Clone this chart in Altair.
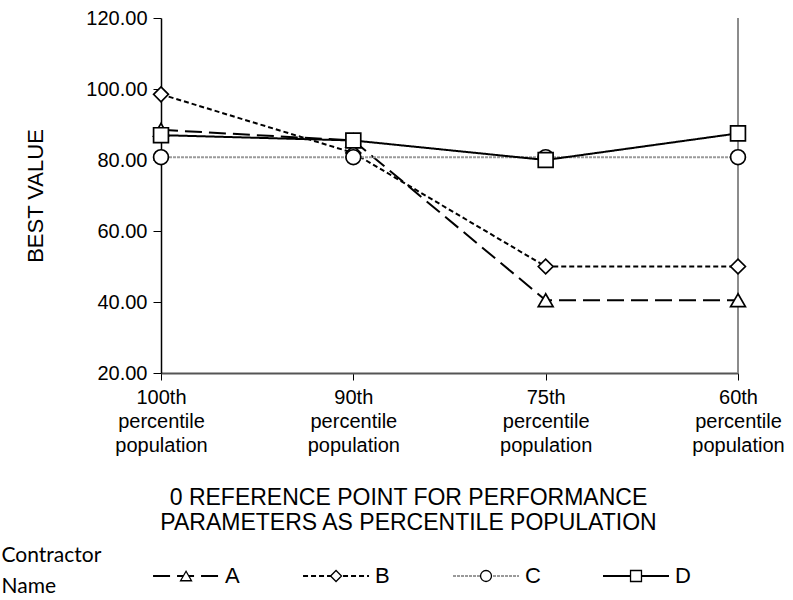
import altair as alt
import pandas as pd

categories = ["100th percentile population", "90th percentile population",
              "75th percentile population", "60th percentile population"]
contractors = ["A", "B", "C", "D"]
values_A = [88.5, 85.5, 40.5, 40.5]
values_B = [98.5, 82.0, 50.0, 50.0]
values_C = [80.8, 80.8, 80.8, 80.8]
values_D = [87.0, 85.5, 80.0, 87.5]
y_ticks = [20, 40, 60, 80, 100, 120]
x_title = ["0 REFERENCE POINT FOR PERFORMANCE", "PARAMETERS AS PERCENTILE POPULATION"]
legend_title = ["Contractor", "Name"]

rows = []
for name, vals in zip(contractors, [values_A, values_B, values_C, values_D]):
    for i, (c, v) in enumerate(zip(categories, vals)):
        rows.append({"Contractor": name, "Point": c, "Value": v, "order": i})
df = pd.DataFrame(rows)

FONT = "Liberation Sans"

dash_scale = alt.Scale(domain=contractors, range=[[17, 7], [5, 3], [3, 1], [1, 0]])
color_scale = alt.Scale(domain=contractors, range=["black", "black", "#9a9a9a", "black"])
width_scale = alt.Scale(domain=contractors, range=[2, 2, 3.5, 2.5])
shape_scale = alt.Scale(domain=contractors, range=["triangle-up", "diamond", "circle", "square"])

x_enc = alt.X("Point:N", sort=categories, scale=alt.Scale(type="point", padding=0),
              axis=alt.Axis(labelExpr="split(datum.label, ' ')", labelAngle=0,
                            labelAlign="center", labelBaseline="top",
                            labelFontSize=20, labelLineHeight=24, labelPadding=7,
                            tickSize=7, tickColor="black", domainColor="#555",
                            domainWidth=2, labelColor="black",
                            title=x_title, titleFontSize=23, titleFontWeight="normal",
                            titleLineHeight=25, titlePadding=31, titleX=247,
                            titleColor="black"))
y_enc = alt.Y("Value:Q", scale=alt.Scale(domain=[20, 120], nice=False),
              axis=alt.Axis(values=y_ticks, format=".2f", grid=False, labelFontSize=20,
                            tickSize=8, tickColor="black", domainColor="black",
                            domainWidth=1.5, labelColor="black", labelPadding=6,
                            title="BEST VALUE", titleFontSize=22,
                            titleFontWeight="normal", titlePadding=38, titleColor="black"))

lines = alt.Chart(df).mark_line().encode(
    x=x_enc, y=y_enc,
    detail="Contractor:N",
    stroke=alt.Stroke("Contractor:N", scale=color_scale, legend=None),
    strokeDash=alt.StrokeDash("Contractor:N", scale=dash_scale, legend=None),
    strokeWidth=alt.StrokeWidth("Contractor:O", scale=width_scale, legend=None),
    order="order:Q",
)

points = alt.Chart(df).mark_point(filled=True, fill="white", stroke="black",
                                  strokeWidth=1.7, size=220, opacity=1).encode(
    x=alt.X("Point:N", sort=categories),
    y="Value:Q",
    shape=alt.Shape("Contractor:N", scale=shape_scale, legend=None),
)

border = alt.Chart(pd.DataFrame({"Point": [categories[-1]]})).mark_rule(
    color="#8c8c8c", strokeWidth=2).encode(x=alt.X("Point:N", sort=categories))

top = alt.layer(border, lines, points).properties(width=577, height=355)

# custom legend row
leg_df = pd.DataFrame({"Contractor": contractors})
leg_base = alt.Chart(leg_df).transform_window(rn="row_number()").transform_calculate(
    idx="datum.rn - 1", x0="datum.rn - 1.22", x1="datum.rn - 0.78",
    xt="datum.rn - 0.74", yv="0.5")
lx = alt.Scale(domain=[-0.167, 3.68], nice=False, zero=False)
ly = alt.Scale(domain=[0, 1])

leg_lines = leg_base.mark_rule().encode(
    x=alt.X("x0:Q", scale=lx, axis=None),
    x2="x1:Q",
    y=alt.Y("yv:Q", scale=ly,
            axis=alt.Axis(domain=False, labels=False, ticks=False, grid=False,
                          title=legend_title, titleAngle=0, titleAlign="left",
                          titleBaseline="middle", titleX=-160, titleY=-1,
                          titleFont="Lato", titleFontSize=21, titleFontWeight="normal",
                          titleLineHeight=31, titleColor="black")),
    stroke=alt.Stroke("Contractor:N", scale=color_scale, legend=None),
    strokeDash=alt.StrokeDash("Contractor:N", scale=dash_scale, legend=None),
    strokeWidth=alt.StrokeWidth("Contractor:O", scale=width_scale, legend=None),
)
leg_points = leg_base.mark_point(filled=True, fill="white", stroke="black",
                                 strokeWidth=1.3, size=120, opacity=1).encode(
    x=alt.X("idx:Q", scale=lx), y=alt.Y("yv:Q", scale=ly),
    shape=alt.Shape("Contractor:N", scale=shape_scale, legend=None),
)
leg_text = leg_base.mark_text(align="left", baseline="middle", fontSize=22,
                              font=FONT, color="black").encode(
    x=alt.X("xt:Q", scale=lx), y=alt.Y("yv:Q", scale=ly), text="Contractor:N")

legend_row = alt.layer(leg_lines, leg_points, leg_text).properties(width=577, height=40)

chart = alt.vconcat(top, legend_row, spacing=10).properties(
    padding={"left": 1, "top": 8, "right": 5, "bottom": 2},
    background="white",
).configure_view(stroke=None).configure_axis(labelFont=FONT, titleFont=FONT)

chart.save("out.html", embed_options={"renderer": "svg", "actions": False})
